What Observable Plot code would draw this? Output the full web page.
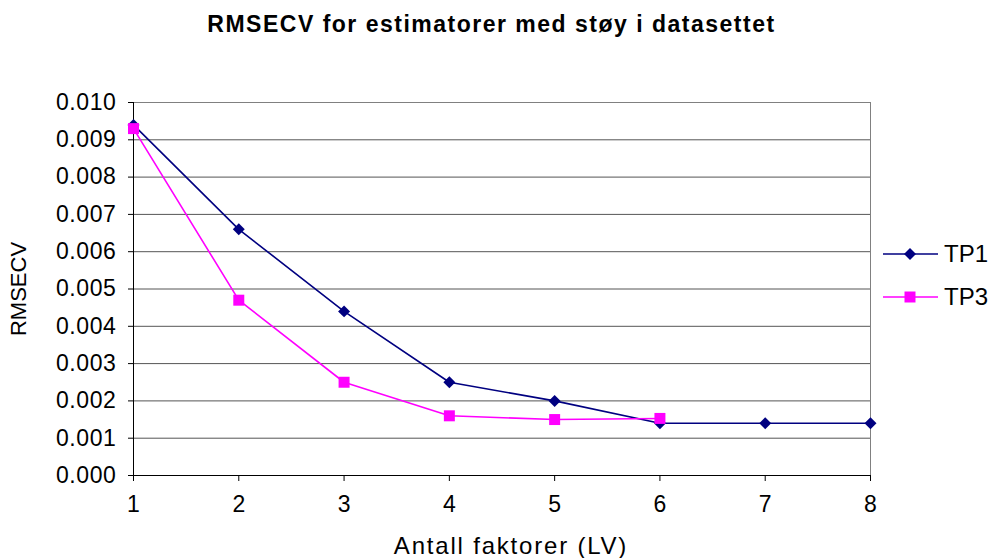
<!DOCTYPE html>
<html>
<head>
<meta charset="utf-8">
<script src="https://cdn.jsdelivr.net/npm/d3@7"></script>
<script src="https://cdn.jsdelivr.net/npm/@observablehq/plot@0.6"></script>
<style>
  html, body { margin: 0; padding: 0; background: #fff; }
  #chart { position: relative; width: 993px; height: 558px; font-family: "Liberation Sans", Arial, sans-serif; }
  #title { position: absolute; left: 0; width: 983px; top: 11px; text-align: center; font-weight: bold; font-size: 23px; letter-spacing: 1.5px; color: #000; }
  #legend { position: absolute; left: 883px; top: 232px; font-size: 24px; color: #000; }
  #legend .item { display: flex; align-items: center; height: 43px; }
  #legend svg { margin-right: 5px; }
</style>
</head>
<body>
<div id="chart">
  <div id="title">RMSECV for estimatorer med støy i datasettet</div>
  <div id="legend"></div>
</div>
<script>
// Number of latent variables (factors)
const factors = [1, 2, 3, 4, 5, 6, 7, 8];
// RMSECV per number of factors
const tp1 = [0.0094, 0.0066, 0.0044, 0.0025, 0.0020, 0.0014, 0.0014, 0.0014];
const tp3 = [0.0093, 0.0047, 0.0025, 0.0016, 0.0015, 0.00153];
const yTicks = [0, 0.001, 0.002, 0.003, 0.004, 0.005, 0.006, 0.007, 0.008, 0.009, 0.010];

const seriesInfo = [
  {name: "TP1", values: tp1, color: "#000080", symbol: "diamond2", r: 5.4},
  {name: "TP3", values: tp3, color: "#ff00ff", symbol: "square", r: 6.2}
];

const rows = seriesInfo.flatMap(s =>
  s.values.map((v, i) => ({series: s.name, x: factors[i], y: v}))
);

const font = "Liberation Sans, Arial, sans-serif";

const marks = [
  Plot.gridY(yTicks, {stroke: "#555", strokeOpacity: 1}),
  Plot.frame({stroke: "#808080"}),
  Plot.axisY(yTicks, {
    tickSize: 5, tickPadding: 12, tickFormat: d3.format(".3f"), fontSize: 23,
    label: "RMSECV", labelAnchor: "center", labelArrow: "none", labelOffset: 123
  }),
  Plot.axisX(factors, {
    tickSize: 6, tickPadding: 14, tickFormat: d3.format("d"), fontSize: 23,
    label: "Antall faktorer (LV)", labelAnchor: "center", labelArrow: "none", labelOffset: 78
  }),
  Plot.ruleY([0], {stroke: "#000"}),
  Plot.ruleX([1], {stroke: "#000"})
];

for (const s of seriesInfo) {
  const data = rows.filter(d => d.series === s.name);
  marks.push(Plot.line(data, {x: "x", y: "y", stroke: s.color, strokeWidth: 1.6}));
  marks.push(Plot.dot(data, {x: "x", y: "y", symbol: () => s.symbol, fill: s.color, stroke: "none", r: s.r}));
}

const plot = Plot.plot({
  width: 993,
  height: 558,
  marginLeft: 133,
  marginRight: 123,
  marginTop: 102,
  marginBottom: 83,
  style: {fontFamily: font, fontSize: "23px", color: "#000", background: "transparent"},
  x: {domain: [1, 8]},
  y: {domain: [0, 0.010]},
  symbol: {type: "identity"},
  marks
});
plot.style.position = "absolute";
plot.style.left = "0";
plot.style.top = "0";
document.getElementById("chart").prepend(plot);

// Text spacing of the axis labels
const svgSel = d3.select(plot);
svgSel.selectAll('g[aria-label="x-axis label"] text')
  .style("letter-spacing", "1.8px").style("font-size", "24px").attr("dx", 9);
svgSel.selectAll('g[aria-label="y-axis label"] text').style("font-size", "22px");
svgSel.selectAll('g[aria-label="y-axis tick label"] text').style("letter-spacing", "0.6px");

// Legend entries: line segment with the series marker, then the series name
const legend = d3.select("#legend");
for (const s of seriesInfo) {
  const item = legend.append("div").attr("class", "item");
  const svg = item.append("svg").attr("width", 56).attr("height", 16);
  svg.append("line").attr("x1", 0).attr("x2", 55).attr("y1", 8).attr("y2", 8)
    .attr("stroke", s.color).attr("stroke-width", 1.6);
  const sym = s.symbol === "diamond2" ? d3.symbolDiamond2 : d3.symbolSquare;
  svg.append("path").attr("transform", "translate(27,8)")
    .attr("d", d3.symbol(sym, Math.PI * s.r * s.r)()).attr("fill", s.color);
  item.append("span").text(s.name);
}
</script>
</body>
</html>
